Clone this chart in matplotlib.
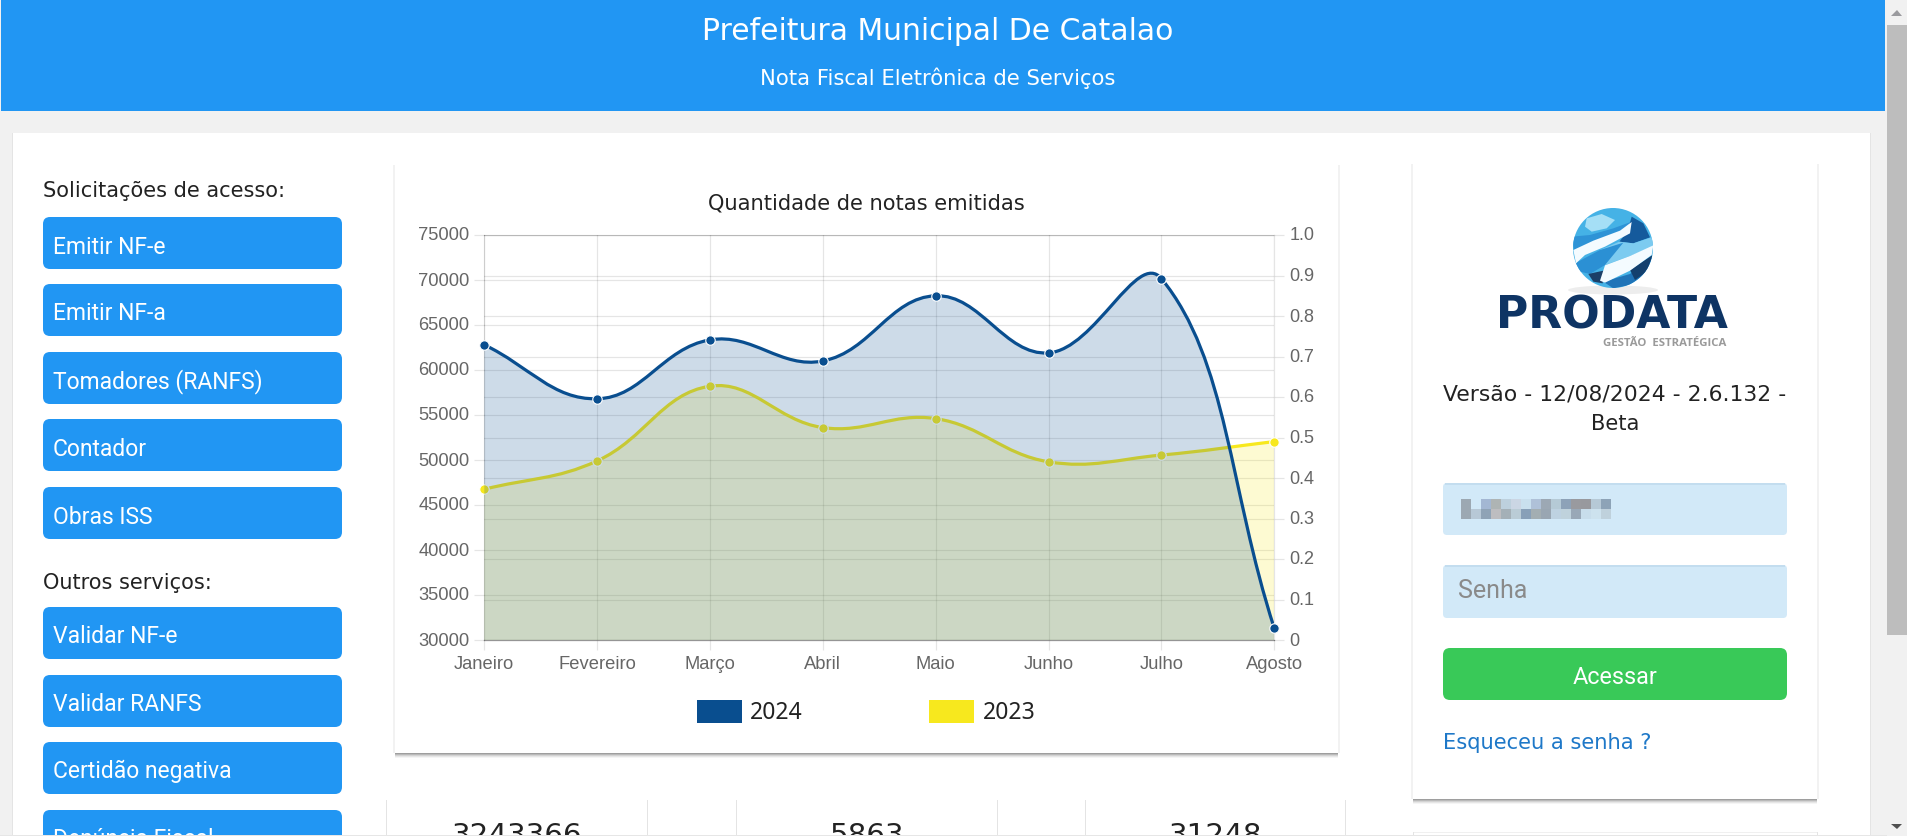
import matplotlib
matplotlib.use('Agg')
import matplotlib.pyplot as plt
import matplotlib.transforms as mtrans
import numpy as np
from matplotlib.patches import FancyBboxPatch, Rectangle, PathPatch, Circle, Polygon, Ellipse
from matplotlib.path import Path

# Chart data
meses = ['Janeiro', 'Fevereiro', 'Março', 'Abril', 'Maio', 'Junho', 'Julho', 'Agosto']
notas_2024 = [62800, 56800, 63350, 61000, 68250, 61900, 70150, 31300]
notas_2023 = [46750, 49900, 58200, 53600, 54600, 49800, 50550, 52050]
left_ticks = [30000, 35000, 40000, 45000, 50000, 55000, 60000, 65000, 70000, 75000]
right_ticks = [0, 0.1, 0.2, 0.3, 0.4, 0.5, 0.6, 0.7, 0.8, 0.9, 1.0]
right_labels = ['0', '0.1', '0.2', '0.3', '0.4', '0.5', '0.6', '0.7', '0.8', '0.9', '1.0']

# Page text
botoes_acesso = ['Emitir NF-e', 'Emitir NF-a', 'Tomadores (RANFS)', 'Contador', 'Obras ISS']
botoes_outros = ['Validar NF-e', 'Validar RANFS', 'Certidão negativa', 'Denúncia Fiscal']
totais = ['3243366', '5863', '31248']

AZUL = '#2196F3'
COR_2024 = '#094E8F'
COR_2023 = '#F7E81E'
CINZA = '#666666'
TEXTO = '#222222'

W, H = 1908, 836
fig = plt.figure(figsize=(W / 100, H / 100), dpi=100, facecolor='#F1F1F1')

# page layer in pixel coordinates
page = fig.add_axes([0, 0, 1, 1], zorder=0)
page.set_xlim(0, W)
page.set_ylim(H, 0)
page.axis('off')


def rect(x0, y0, x1, y1, color, z=1, **kw):
    page.add_patch(Rectangle((x0, y0), x1 - x0, y1 - y0, fc=color, ec='none', zorder=z, **kw))


def rrect(x0, y0, x1, y1, color, r=7, z=2):
    page.add_patch(FancyBboxPatch((x0, y0), x1 - x0, y1 - y0, boxstyle='round,pad=0,rounding_size=%d' % r,
                                  fc=color, ec='none', zorder=z))


def card(x0, y0, x1, y1):
    # faint edges, shadow only really shows at the bottom
    rect(x0 - 2, y0, x1 + 2, y1, (0, 0, 0, 0.05), z=1.2)
    for off, a in [(5, 0.04), (4, 0.06), (3, 0.08), (2, 0.12), (1, 0.14)]:
        rect(x0, y1, x1, y1 + off, (0, 0, 0, a), z=1.2)
    rect(x0, y0, x1, y1, 'white', z=1.5)


def txt(x, y, s, size, color=TEXTO, family='DejaVu Sans', ha='left', va='center', **kw):
    page.text(x, y, s, fontsize=size, color=color, family=family, ha=ha, va=va, zorder=5, **kw)


# header and scrollbar
rect(1, 0, 1885, 111, AZUL)
txt(938, 32, 'Prefeitura Municipal De Catalao', 21.5, 'white', ha='center')
txt(938, 78, 'Nota Fiscal Eletrônica de Serviços', 15.2, 'white', ha='center')
rect(1887, 0, W, H, '#F1F1F1', z=3)
rect(1887, 25, W, 635, '#BDBDBD', z=3.1)
page.add_patch(Polygon([[1891, 16], [1902, 16], [1897, 10]], fc='#9A9A9E', ec='none', zorder=3.2))
page.add_patch(Polygon([[1891, 824], [1902, 824], [1897, 829]], fc='#505050', ec='none', zorder=3.2))

# main white panel
rect(12, 133, 1871, H, (0, 0, 0, 0.05), z=0.9)
rect(13, 133, 1870, H, 'white', z=1)

# left column
txt(43, 191, 'Solicitações de acesso:', 15)
acesso_y = [217, 284, 352, 419, 487]
for y, nome in zip(acesso_y, botoes_acesso):
    rrect(43, y, 342, y + 52, AZUL)
    txt(53, y + 30, nome, 16.5, 'white', family='Roboto')
txt(43, 583, 'Outros serviços:', 15)
outros_y = [607, 675, 742, 810]
for y, nome in zip(outros_y, botoes_outros):
    rrect(43, y, 342, y + 52, AZUL)
    txt(53, y + 36, nome, 16.5, 'white', family='Roboto', va='baseline')

# cards
card(395, 165, 1338, 753)
card(1413, 164, 1817, 799)

txt(866, 203, 'Quantidade de notas emitidas', 15.1, ha='center')

# tile row under the chart
for x in [386, 647, 736, 997, 1085, 1345]:
    rect(x, 800, x + 1, H, '#E4E4E4', z=2)
for x, s in zip([517, 867, 1216], totais):
    txt(x, 844, s, 21.2, ha='center', va='baseline')
rect(1413, 832, 1414, H, '#E4E4E4', z=2)
rect(1817, 832, 1818, H, '#E4E4E4', z=2)
rect(1414, 832, 1817, 833, '#F0F0F0', z=2)
rect(0, 835, 1887, H, '#E6E6E6', z=6)

# legend
rect(697, 700, 742, 723, COR_2024, z=3)
txt(750, 713, '2024', 16.5, family='Noto Sans')
rect(929, 700, 974, 723, COR_2023, z=3)
txt(983, 713, '2023', 16.5, family='Noto Sans')

# login card: logo, drawn in the 3x crop grid of the logo
def lp(pts):
    return [[1490 + a / 3, 200 + b / 3] for a, b in pts]


logo_clip = Circle((1613, 248), 40, transform=page.transData)
page.add_patch(Ellipse((1613, 290), 90, 9, fc='#000000', alpha=0.07, ec='none', zorder=2))
page.add_patch(Circle((1613, 248), 40, fc='#45B2E6', ec='none', zorder=3))
logo_shapes = [
    ([(290, 55), (335, 42), (375, 60), (350, 85), (305, 95), (285, 80)], '#A5DFF6'),
    ([(245, 110), (300, 105), (370, 85), (425, 65), (400, 110), (330, 145), (255, 165)], '#2E93D6'),
    ([(425, 50), (460, 70), (480, 112), (430, 130), (388, 125), (412, 95)], '#155A9C'),
    ([(388, 125), (430, 130), (490, 110), (490, 140), (420, 168), (345, 195), (330, 150)], '#7CCBF0'),
    ([(255, 190), (330, 150), (400, 128), (345, 195), (300, 222), (270, 215)], '#2B90D4'),
    ([(295, 222), (340, 212), (338, 250), (310, 245)], '#1B3F68'),
    ([(340, 245), (420, 222), (488, 170), (470, 220), (420, 255), (370, 265)], '#1F74B8'),
    ([(420, 210), (488, 165), (470, 215), (435, 240)], '#14406E'),
    ([(250, 150), (310, 122), (390, 92), (425, 66), (420, 100), (345, 140), (285, 165), (258, 190)], '#F4FBFF'),
    ([(345, 196), (420, 168), (490, 136), (485, 165), (420, 212), (345, 248), (330, 242)], '#F4FBFF'),
]
for pts, cor in logo_shapes:
    p = Polygon(lp(pts), fc=cor, ec='none', zorder=3.5)
    page.add_patch(p)
    p.set_clip_path(logo_clip)
txt(1612, 316, 'PRODATA', 31.8, '#0E3464', weight='bold', ha='center')
txt(1726, 343, 'GESTÃO  ESTRATÉGICA', 8.2, '#9A9A9A', family='Open Sans', ha='right', weight='bold')

# login card: form
txt(1615, 394, 'Versão - 12/08/2024 - 2.6.132 -', 15.75, ha='center')
txt(1615, 424, 'Beta', 15.1, ha='center')
rrect(1443, 483, 1787, 535, '#D2E9F8', r=4)
rect(1445, 483, 1785, 485, '#C3DDEF', z=2.1)
rrect(1443, 565, 1787, 618, '#D2E9F8', r=4)
rect(1445, 565, 1785, 567, '#C3DDEF', z=2.1)
txt(1458, 591, 'Senha', 18, '#8A8A8A', family='Roboto')
rrect(1443, 648, 1787, 700, '#39C958')
txt(1615, 677, 'Acessar', 16.8, 'white', family='Roboto', ha='center')
txt(1443, 743, 'Esqueceu a senha ?', 15.1, '#1E78C8')

# pixelated user name
mosaico = [
    ['#9CA8B2', '#D2E9F8', '#A3B7D3', '#AEB4B4', '#BDD0DD', '#CBD6E4', '#C9E0EE', '#AFC1D8',
     '#9CA8B4', '#B5CAD6', '#8DA2B8', '#999A9F', '#98999E', '#B6C9D6', '#8DA3B7'],
    ['#9CA8B2', '#B7C8D6', '#8FA3B6', '#BDBDC0', '#A4B0B7', '#BACCD6', '#88A0B8', '#A3AEB2',
     '#99A6B2', '#BED2E1', '#BFD2DC', '#99A8B7', '#C8DDEB', '#CDE2EE', '#BFD1DC'],
]
for r, linha in enumerate(mosaico):
    for c, cor in enumerate(linha):
        rect(1461 + c * 10, 499 + r * 10, 1471 + c * 10, 509 + r * 10, cor, z=3)

# chart axes
left, right, top, bottom = 484.3, 1274.3, 235, 640
box = [left / W, 1 - bottom / H, (right - left) / W, (bottom - top) / H]
ax_r = fig.add_axes(box, zorder=1, facecolor='white')
ax = fig.add_axes(box, zorder=2, facecolor='none')

xs = np.arange(len(meses))
ax.set_xlim(0, len(meses) - 1)
ax.set_ylim(30000, 75000)
ax_r.set_xlim(0, len(meses) - 1)
ax_r.set_ylim(0, 1)

tick_rgba = (0, 0, 0, 0.1)
ax_r.set_xticks(xs)
ax_r.set_yticks(right_ticks)
ax_r.set_yticklabels(right_labels)
ax_r.yaxis.tick_right()
ax_r.set_xticklabels([])
ax_r.grid(True, axis='y', color='black', alpha=0.1, lw=0.9)
ax_r.set_axisbelow(True)
ax_r.tick_params(axis='y', length=7.2, width=0.9, color=tick_rgba, labelcolor=CINZA, labelsize=13, pad=3.6,
                 labelfontfamily='Liberation Sans')
ax_r.tick_params(axis='x', length=0)

ax.set_xticks(xs)
ax.set_xticklabels(meses)
ax.set_yticks(left_ticks)
ax.grid(True, color='black', alpha=0.1, lw=0.9)
ax.set_axisbelow(True)
ax.tick_params(length=7.2, width=0.9, color=tick_rgba, labelcolor=CINZA, labelsize=13.2, pad=3.6,
               labelfontfamily='Liberation Sans')
ax.tick_params(axis='x', pad=4.5)

# only one set of frame lines, or they stack up darker than the grid
for s in ax_r.spines.values():
    s.set_color(tick_rgba)
    s.set_linewidth(0.9)
for k in ('top', 'left', 'right'):
    ax.spines[k].set_visible(False)
ax.spines['bottom'].set_color((0, 0, 0, 0.35))
ax.spines['bottom'].set_linewidth(0.9)

# y labels sit a pixel above their lines in the browser
up_1px = mtrans.ScaledTranslation(0, 1 / 100, fig.dpi_scale_trans)
for a in (ax, ax_r):
    for lab in a.get_yticklabels():
        lab.set_transform(lab.get_transform() + up_1px)


def spline_path(x, y, t=0.4):
    # same bezier control points a chart.js line uses, worked out in screen space
    p = ax.transData.transform(np.column_stack([x, y]))
    n = len(p)
    verts = [p[0]]
    codes = [Path.MOVETO]
    for i in range(n - 1):
        for_next = []
        for j in (i, i + 1):
            a = p[max(j - 1, 0)]
            b = p[j]
            c = p[min(j + 1, n - 1)]
            d01 = np.hypot(*(b - a))
            d12 = np.hypot(*(c - b))
            s01 = d01 / (d01 + d12)
            s12 = d12 / (d01 + d12)
            for_next.append((b - t * s01 * (c - a), b + t * s12 * (c - a)))
        verts += [for_next[0][1], for_next[1][0], p[i + 1]]
        codes += [Path.CURVE4] * 3
    verts = ax.transData.inverted().transform(np.array(verts))
    return verts, codes


def serie(y, cor, z):
    verts, codes = spline_path(xs, y)
    fill_v = np.vstack([verts, [xs[-1], 30000], [xs[0], 30000], [xs[0], 30000]])
    fill_c = codes + [Path.LINETO, Path.LINETO, Path.CLOSEPOLY]
    ax.add_patch(PathPatch(Path(fill_v, fill_c), fc=cor, ec='none', alpha=0.2, zorder=z))
    ax.add_patch(PathPatch(Path(verts, codes), fc='none', ec=cor, lw=2.3, zorder=z + 0.1))
    ax.plot(xs, y, ls='none', marker='o', ms=6.8, mfc=cor, mec='white', mew=0.8, zorder=z + 0.2, clip_on=False)


serie(notas_2023, COR_2023, 3)
serie(notas_2024, COR_2024, 4)

fig.savefig('out.png', dpi=100, facecolor=fig.get_facecolor())
